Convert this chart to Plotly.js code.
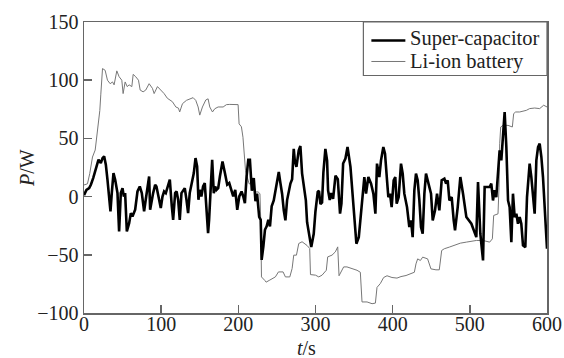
<!DOCTYPE html>
<html>
<head>
<meta charset="utf-8">
<script src="https://cdn.plot.ly/plotly-3.0.1.min.js"></script>
<style>html,body{margin:0;padding:0;background:#fff;}#chart{width:564px;height:358px;}</style>
</head>
<body>
<div id="chart"></div>
<script>
// ---- data ----
const seriesNames = ["Super-capacitor", "Li-ion battery"];
const xTickVals = [0, 100, 200, 300, 400, 500, 600];
const yTickVals = [-100, -50, 0, 50, 100, 150];

const tSuper = [0,3.2,6.7,8.9,11.9,15.3,18.8,21.8,24,26.1,28.3,30.4,32.6,34.3,36,38.2,40.4,42.1,43.4,45.5,47.7,49.9,51.6,53.3,55.5,58.5,60.7,62.8,66.3,69.3,72.3,74.9,77.9,80,82.2,84.4,85.7,87.8,89.6,92.2,93.9,96.5,99.5,101.7,103.8,106,108.2,111.2,113.8,115.5,118.1,120,122,124.1,126.3,128.5,130.6,132.8,134.9,137,139.3,142.3,144.5,146.6,148.3,150,152.1,154.3,156.5,158.7,160.8,162.1,163.9,166.1,168.2,170,171.7,173.9,176.1,179.5,182.6,185.6,188.2,191.2,193.4,196,198.6,201.2,204.2,206.4,208.5,210.7,212.9,215,217.5,220,222.2,224.3,227,229,230.2,232.4,234.5,236.7,238.9,241,243.2,245.9,250.2,252.4,254.6,256.7,258.9,261,263.2,265.4,267.5,269.7,271.8,273.1,275.3,278.3,280.4,282.6,285.6,287.5,289.1,292.5,294.5,297.7,299.9,302.9,304.5,306.4,308.5,310.2,312.8,315,316.3,318.5,320.2,322.8,325.9,328.9,331.8,333.6,335.8,338.8,341.5,345.3,349.6,353,356.1,359.1,361.7,363.3,365.5,368.5,372,375,377.6,379.7,382.7,384.9,387.9,390.1,392.7,394.4,396.5,398.7,401.3,403.4,405.2,407.8,410.8,413,415.1,418.6,421.6,423.8,425.9,428.1,430.2,432.4,434.6,436.7,438.9,441.1,443.2,445.4,447.5,449.7,451.9,454.9,457.5,460.5,463.5,467,469.2,471.3,473.5,476.5,479.1,480.8,484.3,487.7,491.2,495.5,502,508.4,510.6,513.6,517.1,519.2,525.7,527.8,530,532.1,534.3,536.5,538.6,540.8,543,545.1,547.3,549.5,551.6,553.8,555.9,558.1,560.3,562.4,564.6,566.7,568.9,571.9,574.1,577.5,579.7,581.9,584,586.2,588.4,590.5,592.7,594.8,597,600];
const pSuper = [1.2,5.8,7.3,10.2,15.9,23.1,31.7,28.8,33.1,34.6,27.4,14.5,-2.7,-12.7,3,20.2,14.5,8.7,3,-30,3,7.3,0.1,3,-30,-22.8,-14.2,-17.1,-11.3,4.4,8.7,3,-12.7,-2.7,7.3,17.3,-11.3,-2.7,3,10.2,8.7,0.1,-9.9,0.1,4.4,3,8.7,14.5,-8.4,-20,3,4.4,-2.7,-20,3,5.8,7.3,-2.7,-14.2,3,11.6,20.2,33.1,25.9,-2.7,5.8,0.1,8.7,11.6,-8.4,-31.4,-20,5.8,31.7,3,8.7,5.8,7.3,17.3,30.2,20.2,10.2,11.6,4.4,0.1,5.8,-11.3,0.1,4.4,0.1,-5.6,17.3,31.7,31.7,5,16,-4,2.6,-17.5,-20,-54.4,-42.9,-28.5,-25.6,-20,-25.6,-8.4,-3.3,13.9,21.1,11.2,2.5,-11.8,-20.4,-3,5.4,11.2,15,41,31.3,25.5,39.8,43.5,20,2.6,-3.2,-22,-38,-43.4,-31.9,-13,4,5,-6.5,-5,20.5,41,31,5.3,-3,3,-2,18,15,-14.6,-6,28.4,32.7,42.7,25.5,-14,-40.5,-34.8,-14.6,2.6,16.8,2.5,16.8,11.1,2.5,-14.7,28.3,16.8,31.1,42.6,36.9,14,-0.4,2.5,-9,14,16.8,-6.1,-0.4,28.3,19.7,2.5,-9,-26.1,-20.4,-34.8,5.4,19.7,14,-3.3,-26.1,-31.9,2.5,19.7,14,8.3,2.5,-20.4,-11.8,2.5,-11.8,14,15.4,11.1,14,-3.3,-0.4,-20.4,-29,-9,16.8,2.5,-17.6,-23.3,-34.8,12.5,-31.9,-54.8,8.2,8.2,11.1,-3.3,5.4,-0.4,19.7,39.8,31.1,51.2,72.7,42.7,-3.3,-9,-39.1,2.5,-17.6,-14.7,-23.3,-17.6,-23.3,-41.9,-43.4,-0.4,28.3,16.8,2.5,-14.7,31.1,42.6,45.5,34,16.8,-11.8,-44.8];

const tBattery = [0,4.5,7.5,11,14.5,16,18.8,20.5,21.8,24,27.4,30.4,33.9,37,39,42.5,45.5,49,50.7,53.3,56,58.5,62,63.7,67,70.6,72.8,76.6,80,84.4,88.7,90.9,95.2,99.5,103.8,108,111.6,114.6,119,122.4,124,127.6,132.8,137,141.4,144.8,147.9,150,153.5,157.8,160.8,163,166.5,169.5,173.8,180.3,184.6,188.9,195.4,199.7,201,204,206,207.5,209.3,211.4,214,220,222,225.7,228,229,230,234.3,236,240,244,248,252,258,261,266.7,269.7,271.8,275.3,278.3,282.6,289.1,292.5,293.5,300,304.2,308.5,314,315.8,321.4,325.7,328.8,330.5,336.5,340.8,347.3,353.8,358.1,360.3,366.8,373.3,377.6,379.7,384,388.3,392.7,399.1,405.6,410.8,417.3,423.8,428.1,430.2,432.4,435.9,438.9,445.3,449.6,456.1,460.4,463.5,466.9,473.4,479.9,487.7,495.5,508.4,517.1,525.7,529.2,530.9,536.5,537.8,538.7,540,543,549.5,555.1,556.8,559.4,564.6,573.2,577.5,584,590.5,595.7,600];
const pBattery = [10,11,20,34,40,48,60,74,88,110,108.5,100,97,98.5,96,108,103,100,88.5,98.5,94.5,96,94.5,105,103,100,91.5,90,91.5,97,93,88.5,94.5,91.5,88.5,84.5,83,81.5,77,76,72.7,79.8,82.7,84,85,82.7,77,70,77,83,84,77,72.7,75.5,77,77,79,79.2,79.2,79,62.5,60,51,37,22.5,17,11,11,4,4,2.5,-20,-69,-72,-73.5,-72,-70.5,-69,-64.7,-64.7,-69,-69,-61.8,-50.3,-50.3,-40.3,-38.8,-42,-44.6,-67,-67.5,-69,-67.5,-63.3,-51.8,-50.3,-47.5,-43.2,-68,-60.4,-60.4,-61.8,-63.3,-65,-90.5,-90.5,-92,-91.5,-78,-74.7,-69.5,-68,-69.5,-70,-68.7,-67.8,-66.4,-65,-57.8,-53.5,-54.9,-52,-53.5,-62.1,-62.9,-62.9,-46.3,-44.8,-43.4,-42,-40,-39.1,-37.7,-37.7,-39.1,-36.3,-16.2,-14.8,8.1,45.4,59.8,61.2,61.2,59.8,71.3,72.7,72.7,74.1,75.6,76.1,75.6,78.5,77];

// ---- styling ----
const serif = "Liberation Serif";
const axisCol = "#666";
const textCol = "#222";
const W = 564, H = 358;
const M = {l: 83.5, r: 17.3, t: 21.5, b: 45.4};
const pw = W - M.l - M.r, ph = H - M.t - M.b;
const px = v => (v - M.l) / pw;      // pixel -> paper x
const py = v => (H - M.b - v) / ph;  // pixel -> paper y

const traces = [
  {x: tBattery, y: pBattery, type: 'scatter', mode: 'lines', name: seriesNames[1],
   line: {color: '#777', width: 1}},
  {x: tSuper, y: pSuper, type: 'scatter', mode: 'lines', name: seriesNames[0],
   line: {color: '#000', width: 2.6}}
];

const axisCommon = {
  showline: true, linecolor: axisCol, linewidth: 1.5, mirror: true,
  ticks: 'inside', ticklen: 8, tickwidth: 1.5, tickcolor: axisCol,
  showgrid: false, zeroline: false,
  tickfont: {family: serif, size: 20, color: textCol}
};

const layout = {
  width: W, height: H,
  margin: M,
  paper_bgcolor: '#fff', plot_bgcolor: '#fff',
  showlegend: false,
  xaxis: Object.assign({}, axisCommon, {range: [0, 600], tickmode: 'array', tickvals: xTickVals,
    ticktext: xTickVals.map(String), ticklabelstandoff: -8}),
  yaxis: Object.assign({}, axisCommon, {range: [-100, 150], tickmode: 'array', tickvals: yTickVals,
    ticktext: yTickVals.map(v => v < 0 ? '\u2212' + Math.abs(v) : String(v))}),
  shapes: [
    {type: 'rect', xref: 'paper', yref: 'paper', x0: px(363), x1: 1, y0: py(75), y1: 1,
     line: {color: axisCol, width: 1.2}, fillcolor: '#fff', layer: 'above'},
    {type: 'line', xref: 'paper', yref: 'paper', x0: px(371), x1: px(405), y0: py(40), y1: py(40),
     line: {color: '#000', width: 2.6}},
    {type: 'line', xref: 'paper', yref: 'paper', x0: px(371), x1: px(405), y0: py(61), y1: py(61),
     line: {color: '#777', width: 1}}
  ],
  annotations: [
    {xref: 'paper', yref: 'paper', x: px(408), y: py(38.5), xanchor: 'left', yanchor: 'middle', showarrow: false,
     text: seriesNames[0], font: {family: serif, size: 20.5, color: textCol}},
    {xref: 'paper', yref: 'paper', x: px(408), y: py(61), xanchor: 'left', yanchor: 'middle', showarrow: false,
     text: seriesNames[1], font: {family: serif, size: 20.5, color: textCol}},
    {xref: 'paper', yref: 'paper', x: px(306), y: py(348), xanchor: 'center', yanchor: 'middle', showarrow: false,
     text: '<i>t</i>/s', font: {family: serif, size: 20, color: textCol}},
    {xref: 'paper', yref: 'paper', x: px(27), y: py(168), xanchor: 'center', yanchor: 'middle', showarrow: false,
     textangle: -90, text: '<i>P</i>/W', font: {family: serif, size: 20, color: textCol}}
  ]
};

Plotly.newPlot('chart', traces, layout, {staticPlot: true, displayModeBar: false});
</script>
</body>
</html>
